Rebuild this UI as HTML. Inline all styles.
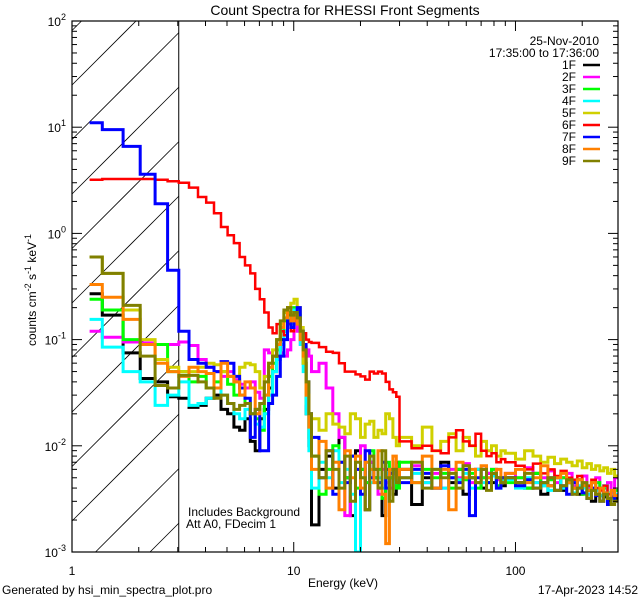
<!DOCTYPE html>
<html><head><meta charset="utf-8">
<style>
html,body{margin:0;padding:0;background:#fff;width:640px;height:600px;overflow:hidden;}
svg{display:block;font-family:"Liberation Sans","DejaVu Sans",sans-serif;overflow:hidden;}
text{font-size:12px;fill:#000;}
</style></head>
<body>
<svg id="chart" width="640" height="600" viewBox="0 0 640 600" xmlns="http://www.w3.org/2000/svg">
<rect x="0" y="0" width="640" height="600" fill="#fff"/>
<text x="345" y="15" text-anchor="middle" style="font-size:14px">Count Spectra for RHESSI Front Segments</text>
<text x="343" y="587" text-anchor="middle">Energy (keV)</text>
<text transform="translate(36,290) rotate(-90)" text-anchor="middle">counts cm<tspan dy="-5" style="font-size:9px">-2</tspan><tspan dy="5"> s</tspan><tspan dy="-5" style="font-size:9px">-1</tspan><tspan dy="5"> keV</tspan><tspan dy="-5" style="font-size:9px">-1</tspan></text>
<text x="2" y="594">Generated by hsi_min_spectra_plot.pro</text>
<text x="638" y="594" text-anchor="end">17-Apr-2023 14:52</text>
<g id="hatch"></g>
<g id="series"></g>
<g id="axes"></g>
<text x="188" y="516">Includes Background</text>
<text x="186" y="528">Att A0, FDecim 1</text>
<text x="599" y="45" text-anchor="end">25-Nov-2010</text>
<text x="599" y="57" text-anchor="end">17:35:00 to 17:36:00</text>
<g id="legend"></g>
</svg>
<script>
const edges=[1.2,1.37,1.70,2.03,2.37,2.70,3.03,3.37,3.70,4.03,4.37,4.70,5.03,5.37,5.70,6.03,6.37,6.70,7.03,7.37,7.70,8.03,8.37,8.70,9.03,9.37,9.70,10.03,10.37,10.70,11.03,11.37,11.70,12.03,
13,14,15,16,17,18,19,20,21,22,23,24,25,26,27,28,29,30,
34,38,42,46,50,54,58,62,66,70,74,78,82,86,90,
100,110,120,130,140,150,160,170,180,190,200,210,220,230,240,250,260,270,280,290];
const seriesNames=["1F","2F","3F","4F","5F","6F","7F","8F","9F"];
const s1F=[0.27,0.17,0.075,0.043,0.04,0.029,
0.028,0.023,0.024,0.028,0.03,0.022,0.02,0.015,0.014,0.018,0.011,0.009,0.018,0.022,0.035,0.05,0.07,0.1,0.12,0.17,0.15,0.18,0.16,0.1,0.06,0.02,0.01,
0.0018,0.006,0.008,0.004,0.012,0.005,0.0022,0.009,0.006,0.0025,0.007,0.005,0.004,0.0022,0.006,0.005,0.0035,0.007,
0.006,0.0028,0.005,0.004,0.007,0.0045,0.006,0.0035,0.005,0.006,0.004,0.0055,0.0045,0.005,0.0042,
0.005,0.0045,0.004,0.0055,0.0035,0.0042,0.005,0.0038,0.0045,0.004,0.0035,0.0042,0.0038,0.003,0.0035,0.004,0.0033,0.003,0.0036,0.0032];
const s2F=[0.12,0.105,0.095,0.093,0.09,0.09,
0.095,0.088,0.065,0.055,0.05,0.045,0.05,0.042,0.038,0.035,0.04,0.032,0.028,0.08,0.075,0.07,0.065,0.075,0.07,0.08,0.1,0.16,0.12,0.09,0.085,0.08,0.07,
0.05,0.06,0.035,0.02,0.012,0.0022,0.008,0.006,0.01,0.0045,0.007,0.005,0.0035,0.006,0.0045,0.004,0.005,0.006,
0.005,0.0065,0.0045,0.0055,0.004,0.006,0.005,0.0068,0.0045,0.006,0.005,0.0055,0.006,0.0048,0.005,
0.0055,0.005,0.0062,0.0045,0.005,0.0058,0.0045,0.005,0.0055,0.0042,0.0048,0.0052,0.004,0.0045,0.005,0.0038,0.0042,0.0045,0.0036,0.005];
const s3F=[0.24,0.19,0.1,0.09,0.09,0.05,
0.05,0.04,0.045,0.035,0.04,0.05,0.038,0.03,0.03,0.025,0.02,0.018,0.014,0.03,0.045,0.06,0.08,0.12,0.15,0.18,0.16,0.2,0.17,0.11,0.06,0.025,0.012,
0.008,0.0035,0.006,0.01,0.007,0.005,0.008,0.004,0.006,0.0045,0.009,0.005,0.006,0.0032,0.007,0.005,0.006,0.004,
0.007,0.0045,0.006,0.005,0.0055,0.004,0.006,0.0048,0.0055,0.004,0.005,0.0045,0.006,0.0042,0.005,
0.0045,0.005,0.004,0.0055,0.0042,0.0048,0.0038,0.005,0.0045,0.004,0.0048,0.0035,0.0042,0.0038,0.0045,0.0034,0.004,0.0036,0.0032,0.0038];
const s4F=[0.155,0.085,0.05,0.04,0.024,0.03,
0.04,0.024,0.025,0.028,0.035,0.03,0.025,0.02,0.018,0.022,0.02,0.016,0.015,0.02,0.03,0.05,0.065,0.09,0.12,0.16,0.14,0.19,0.17,0.09,0.05,0.02,0.009,
0.004,0.007,0.005,0.009,0.0045,0.006,0.0035,0.001,0.005,0.007,0.0045,0.006,0.005,0.004,0.0055,0.006,0.0045,0.005,
0.005,0.0055,0.0045,0.006,0.004,0.005,0.0048,0.0055,0.004,0.006,0.0045,0.005,0.0052,0.004,0.0048,
0.0048,0.004,0.005,0.0045,0.0042,0.0038,0.005,0.004,0.0045,0.0036,0.0042,0.004,0.0035,0.0045,0.0038,0.0034,0.0042,0.0036,0.0032,0.0035];
const s5F=[0.6,0.42,0.19,0.1,0.065,0.055,
0.05,0.05,0.055,0.06,0.058,0.05,0.045,0.04,0.055,0.06,0.058,0.05,0.035,0.045,0.06,0.08,0.1,0.14,0.18,0.2,0.22,0.24,0.2,0.13,0.06,0.03,0.02,
0.018,0.014,0.02,0.016,0.015,0.013,0.02,0.018,0.012,0.016,0.017,0.012,0.014,0.013,0.02,0.018,0.012,0.01,
0.012,0.01,0.015,0.009,0.011,0.013,0.009,0.012,0.01,0.008,0.011,0.009,0.01,0.008,0.009,
0.0085,0.0075,0.009,0.008,0.007,0.0078,0.0068,0.0075,0.007,0.0065,0.0072,0.0062,0.0068,0.006,0.0065,0.0058,0.0062,0.0055,0.006,0.0052];
const s6F=[3.2,3.25,3.25,3.25,3.2,3.1,
3.0,2.7,2.2,1.95,1.55,1.15,0.96,0.81,0.6,0.5,0.42,0.3,0.24,0.18,0.13,0.115,0.14,0.12,0.11,0.14,0.12,0.15,0.14,0.12,0.115,0.1,0.095,
0.093,0.085,0.077,0.075,0.06,0.05,0.05,0.047,0.045,0.042,0.05,0.048,0.05,0.048,0.04,0.034,0.032,0.029,
0.011,0.0095,0.01,0.009,0.0085,0.012,0.014,0.011,0.01,0.013,0.009,0.008,0.0085,0.007,0.0075,
0.007,0.0065,0.006,0.0068,0.0055,0.006,0.0052,0.0058,0.005,0.0048,0.0052,0.0045,0.0042,0.0048,0.004,0.0038,0.0042,0.0035,0.0038,0.0034];
const s7F=[11,9.5,6.6,3.6,1.9,0.45,
0.12,0.065,0.06,0.055,0.05,0.062,0.06,0.045,0.035,0.028,0.012,0.022,0.009,0.009,0.025,0.03,0.045,0.07,0.1,0.15,0.13,0.17,0.2,0.12,0.09,0.04,0.02,
0.012,0.005,0.009,0.0035,0.007,0.0045,0.008,0.006,0.0035,0.009,0.005,0.006,0.0045,0.007,0.004,0.0055,0.006,0.005,
0.0045,0.006,0.0055,0.004,0.0065,0.005,0.0045,0.006,0.0022,0.005,0.006,0.0045,0.0055,0.004,0.005,
0.005,0.0042,0.0048,0.004,0.0045,0.005,0.0038,0.0042,0.0035,0.0045,0.004,0.0036,0.0032,0.004,0.0034,0.003,0.0036,0.0028,0.0033,0.003];
const s8F=[0.33,0.25,0.155,0.09,0.06,0.05,
0.045,0.055,0.05,0.048,0.035,0.06,0.045,0.04,0.03,0.04,0.035,0.02,0.025,0.03,0.055,0.07,0.09,0.13,0.16,0.2,0.15,0.17,0.14,0.1,0.07,0.03,0.015,
0.006,0.011,0.004,0.007,0.0025,0.009,0.005,0.008,0.004,0.007,0.006,0.0045,0.009,0.0035,0.0012,0.006,0.008,0.005,
0.006,0.0045,0.008,0.004,0.006,0.0025,0.007,0.005,0.006,0.0045,0.0065,0.005,0.0055,0.006,0.0045,
0.0055,0.006,0.0045,0.005,0.0065,0.0042,0.005,0.0055,0.0045,0.004,0.0048,0.0042,0.0038,0.0045,0.0035,0.004,0.0036,0.0032,0.0038,0.0034];
const s9F=[0.6,0.42,0.21,0.07,0.037,0.035,
0.046,0.046,0.04,0.035,0.028,0.03,0.025,0.022,0.024,0.025,0.02,0.022,0.025,0.04,0.06,0.07,0.1,0.15,0.19,0.2,0.17,0.18,0.16,0.12,0.08,0.04,0.02,
0.008,0.005,0.009,0.006,0.004,0.008,0.003,0.007,0.005,0.0025,0.008,0.006,0.004,0.009,0.005,0.003,0.006,0.0045,
0.005,0.007,0.004,0.006,0.005,0.0055,0.004,0.0065,0.005,0.0045,0.006,0.0038,0.0055,0.005,0.0045,
0.005,0.0045,0.0055,0.004,0.0045,0.005,0.0038,0.0042,0.0048,0.0035,0.004,0.0045,0.0032,0.0038,0.0035,0.003,0.0035,0.0032,0.0028,0.003];
const seriesColors=["#000000","#ff00ff","#00ff00","#00ffff","#d0d000","#ff0000","#0000ff","#ff8000","#808000"];
const xTickLabels=["1","10","100"];
const yTickExps=[-3,-2,-1,0,1,2];

const NS="http://www.w3.org/2000/svg";
const L=72,R=618,T=21,B=552;
const xMin=1,xMax=290,yMinE=-3,yMaxE=2;
function xs(e){return L+(Math.log10(e)-Math.log10(xMin))/(Math.log10(xMax)-Math.log10(xMin))*(R-L);}
function ys(v){return B-(Math.log10(v)-yMinE)/(yMaxE-yMinE)*(B-T);}
function mk(tag,attrs,parent){const el=document.createElementNS(NS,tag);for(const k in attrs)el.setAttribute(k,attrs[k]);parent.appendChild(el);return el;}

const hatch=document.getElementById('hatch');
const hx2=xs(3.03);
for(let c=85-54.5*3;c<B+200;c+=54.5){
  const xa=Math.max(L,L+(c-B)), xb=Math.min(hx2,L+(c-T));
  if(xb<=xa)continue;
  const ln=mk('line',{x1:xa,y1:c-(xa-L),x2:xb,y2:c-(xb-L),stroke:'#000','stroke-width':0.8},hatch);
  
  
}
const hb=mk('line',{x1:hx2,y1:T,x2:hx2,y2:B,stroke:'#000','stroke-width':1},hatch);



const sg=document.getElementById('series');
const sclip=mk('clipPath',{id:'pclip'},sg);
mk('rect',{x:L,y:T,width:R-L,height:B-T},sclip);
const allSeries=[s1F,s2F,s3F,s4F,s5F,s6F,s7F,s8F,s9F];
allSeries.forEach((vals,si)=>{
  let d='';
  for(let i=0;i<vals.length;i++){
    const x1=xs(edges[i]).toFixed(1),x2=xs(edges[i+1]).toFixed(1),y=Math.min(B,ys(Math.max(vals[i],1e-3))).toFixed(1);
    d+=(i===0?'M':'L')+x1+','+y+'L'+x2+','+y;
  }
  const p=mk('path',{d:d,fill:'none',stroke:seriesColors[si],'stroke-width':si===5?2.5:3,'stroke-linejoin':'miter','clip-path':'url(#pclip)'},sg);
  
  
});

const ax=document.getElementById('axes');
const frame=mk('rect',{x:L,y:T,width:R-L,height:B-T,fill:'none',stroke:'#000','stroke-width':1.2},ax);


for(let dec=0;dec<3;dec++){
  for(let m=1;m<10;m++){
    const e=m*Math.pow(10,dec);
    if(e>xMax)break;
    const x=xs(e),len=m===1?10:5;
    const t1=mk('line',{x1:x,y1:B,x2:x,y2:B-len,stroke:'#000'},ax);
    
    
    const t2=mk('line',{x1:x,y1:T,x2:x,y2:T+len,stroke:'#000'},ax);
    
    
  }
}
xTickLabels.forEach(lb=>{
  const t=mk('text',{x:xs(parseFloat(lb)),y:575,'text-anchor':'middle'},ax);
  t.textContent=lb;
  
  
});
yTickExps.forEach(ex=>{
  for(let m=1;m<10;m++){
    const v=m*Math.pow(10,ex);
    if(ex===yMaxE&&m>1)break;
    const y=ys(v),len=m===1?10:5;
    const a=mk('line',{x1:L,y1:y,x2:L+len,y2:y,stroke:'#000'},ax);
    
    
    const b=mk('line',{x1:R,y1:y,x2:R-len,y2:y,stroke:'#000'},ax);
    
    
  }
  const t=mk('text',{x:L-6,y:ys(Math.pow(10,ex))+5,'text-anchor':'end'},ax);
  
  
  const a1=mk('tspan',{},t);a1.textContent='10';
  const a2=mk('tspan',{dy:-6,style:'font-size:9px'},t);a2.textContent=String(ex);
});

const lg=document.getElementById('legend');
seriesNames.forEach((n,i)=>{
  const y=65+i*12;
  const g=mk('g',{},lg);
  
  
  const t=mk('text',{x:576,y:y+4,'text-anchor':'end'},g);
  t.textContent=n;
  mk('line',{x1:583,y1:y,x2:600,y2:y,stroke:seriesColors[i],'stroke-width':2.5},g);
});
</script>
</body></html>
